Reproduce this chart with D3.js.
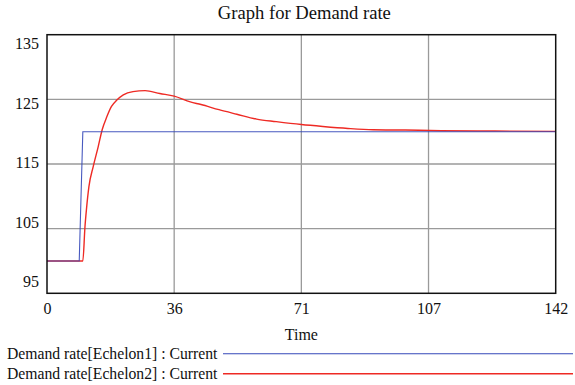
<!DOCTYPE html>
<html>
<head>
<meta charset="utf-8">
<script src="https://cdn.jsdelivr.net/npm/d3@7/dist/d3.min.js"></script>
<style>
  html, body { margin: 0; padding: 0; background: #fff; }
  svg text { font-family: "Liberation Serif", "Times New Roman", serif !important; fill: #111; }
</style>
</head>
<body>
<svg id="chart" width="575" height="385"></svg>
<script>
// Simulation output: Demand rate per echelon over time
const echelon1Time   = [0, 9, 10, 142];
const echelon1Values = [100, 100, 120, 120];

const echelon2Time   = [0, 10, 10.6, 11, 11.7, 12.9, 14.3, 15.4, 16.7, 18, 19.5, 21.3, 24, 27.4,
                        31.5, 35.5, 40, 43, 48, 53, 58.5, 64, 71, 77, 84, 91, 100, 110, 125, 142];
const echelon2Values = [100, 100, 105.3, 107.9, 111.5, 114.6, 117.7, 120.3, 122.3, 123.9, 124.9, 125.7, 126.2, 126.35,
                        125.9, 125.5, 124.6, 124.2, 123.4, 122.7, 121.95, 121.55, 121.1, 120.8, 120.5, 120.3, 120.25, 120.15, 120.1, 120.05];

const xTickValues = [0, 35.5, 71, 106.5, 142];
const xTickLabels = ["0", "36", "71", "107", "142"];
const yTickValues = [95, 105, 115, 125, 135];
const yTickLabels = ["95", "105", "115", "125", "135"];

const seriesNames  = ["Demand rate[Echelon1] : Current", "Demand rate[Echelon2] : Current"];
const seriesColors = ["#3447b8", "#ee2a24"];

const svg = d3.select("#chart");
const plot = { left: 47, top: 34.7, right: 555.7, bottom: 293.3 };

const x = d3.scaleLinear().domain([0, 142]).range([plot.left, plot.right]);
const y = d3.scaleLinear().domain([95, 135]).range([plot.bottom, plot.top]);
// value labels on the vertical axis sit slightly inside the frame
const yLabel = d3.scaleLinear().domain([95, 135]).range([plot.bottom - 6, plot.top + 14.6]);

// title
svg.append("text")
  .attr("x", (plot.left + plot.right) / 2 + 3).attr("y", 19)
  .attr("text-anchor", "middle").attr("font-size", 18.6)
  .text("Graph for Demand rate");

// grid lines
const grid = svg.append("g").attr("stroke", "#9a9a9a").attr("stroke-width", 1.3);
grid.selectAll("line.v").data(xTickValues.slice(1, -1)).join("line")
  .attr("x1", d => x(d)).attr("x2", d => x(d))
  .attr("y1", plot.top).attr("y2", plot.bottom);
grid.selectAll("line.h").data(yTickValues.slice(1, -1)).join("line")
  .attr("y1", d => y(d)).attr("y2", d => y(d))
  .attr("x1", plot.left).attr("x2", plot.right);

// x axis labels
const xAxis = d3.axisBottom(x).tickValues(xTickValues)
  .tickFormat((d, i) => xTickLabels[i]).tickSize(0).tickPadding(0);
const gx = svg.append("g").attr("transform", `translate(0,${plot.bottom})`).call(xAxis)
  .attr("font-family", null).attr("font-size", null);
gx.select(".domain").remove();
gx.selectAll("text").attr("font-size", 16).attr("dy", null).attr("y", 20.5).attr("fill", "#111");

// y axis labels
const gy = svg.append("g");
gy.selectAll("text").data(yTickValues).join("text")
  .attr("x", 39).attr("y", d => yLabel(d))
  .attr("text-anchor", "end").attr("font-size", 16)
  .text((d, i) => yTickLabels[i]);

// axis title
svg.append("text")
  .attr("x", (plot.left + plot.right) / 2).attr("y", 340)
  .attr("text-anchor", "middle").attr("font-size", 16)
  .text("Time");

// series lines
const line = d3.line().x(d => x(d[0])).y(d => y(d[1]));
const smooth = d3.line().x(d => x(d[0])).y(d => y(d[1])).curve(d3.curveMonotoneX);
const red = echelon2Time.map((t, i) => [t, echelon2Values[i]]);
const blue = echelon1Time.map((t, i) => [t, echelon1Values[i]]);

svg.append("path").datum(red).attr("d", smooth)
  .attr("fill", "none").attr("stroke", seriesColors[1]).attr("stroke-width", 1.4)
  .attr("stroke-linejoin", "round");
svg.append("path").datum(blue).attr("d", line)
  .attr("fill", "none").attr("stroke", seriesColors[0]).attr("stroke-width", 1.1)
  .attr("stroke-opacity", 0.9);

// frame
svg.append("rect")
  .attr("x", plot.left).attr("y", plot.top)
  .attr("width", plot.right - plot.left).attr("height", plot.bottom - plot.top)
  .attr("fill", "none").attr("stroke", "#111").attr("stroke-width", 1.5);

// legend
const legend = svg.append("g");
const legendRows = [353.7, 373.7];
seriesNames.forEach((name, i) => {
  legend.append("text")
    .attr("x", 7).attr("y", legendRows[i] + 5.5)
    .attr("font-size", 15.7).text(name);
  legend.append("line")
    .attr("x1", 223).attr("x2", 573)
    .attr("y1", legendRows[i]).attr("y2", legendRows[i])
    .attr("stroke", seriesColors[i]).attr("stroke-width", i === 0 ? 1.1 : 1.4);
});
</script>
</body>
</html>
